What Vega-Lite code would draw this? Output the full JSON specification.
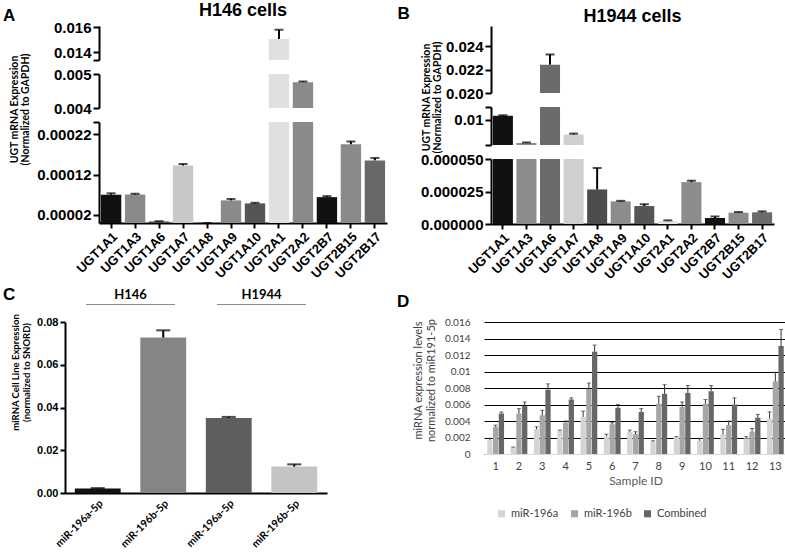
{
  "$schema": "https://vega.github.io/schema/vega-lite/v6.json",
  "background": "white",
  "padding": {"left": 3, "top": 2, "right": 0, "bottom": 0},
  "config": {
    "view": {"stroke": null},
    "font": "Liberation Sans",
    "title": {"font": "Liberation Sans", "fontWeight": "bold", "color": "black", "fontSize": 17},
    "axis": {"grid": false, "domainColor": "black", "domainWidth": 2, "tickColor": "black", "tickWidth": 2, "tickSize": 6, "labelFont": "Liberation Sans", "labelFontWeight": "bold", "labelFontSize": 15, "labelColor": "black", "labelPadding": 2, "titleFont": "Lato", "titleFontWeight": "bold", "titleColor": "black", "titleFontSize": 10.5}
  },
  "datasets": {
    "h146": [
      {"gene": "UGT1A1", "value": 0.00007, "upper": 0.0000735},
      {"gene": "UGT1A3", "value": 0.0000705, "upper": 0.0000725},
      {"gene": "UGT1A6", "value": 0.000004, "upper": 0.0000045},
      {"gene": "UGT1A7", "value": 0.0001425, "upper": 0.000146},
      {"gene": "UGT1A8", "value": 0, "upper": 0},
      {"gene": "UGT1A9", "value": 0.000056, "upper": 0.0000595},
      {"gene": "UGT1A10", "value": 0.0000485, "upper": 0.00005},
      {"gene": "UGT2A1", "value": 0.01504, "upper": 0.01578},
      {"gene": "UGT2A2", "value": 0.00476, "upper": 0.00478},
      {"gene": "UGT2B7", "value": 0.000064, "upper": 0.0000665},
      {"gene": "UGT2B15", "value": 0.000195, "upper": 0.000202},
      {"gene": "UGT2B17", "value": 0.000155, "upper": 0.000161}
    ],
    "h1944": [
      {"gene": "UGT1A1", "value": 0.01062, "upper": 0.0107},
      {"gene": "UGT1A3", "value": 0.00632, "upper": 0.0064},
      {"gene": "UGT1A6", "value": 0.02243, "upper": 0.0233},
      {"gene": "UGT1A7", "value": 0.00766, "upper": 0.0078},
      {"gene": "UGT1A8", "value": 0.0000266, "upper": 0.0000431},
      {"gene": "UGT1A9", "value": 0.0000174, "upper": 0.0000178},
      {"gene": "UGT1A10", "value": 0.0000138, "upper": 0.0000152},
      {"gene": "UGT2A1", "value": 0.0000023, "upper": 0.0000028},
      {"gene": "UGT2A2", "value": 0.0000322, "upper": 0.0000333},
      {"gene": "UGT2B7", "value": 0.0000046, "upper": 0.0000058},
      {"gene": "UGT2B15", "value": 0.0000087, "upper": 0.0000092},
      {"gene": "UGT2B17", "value": 0.000009, "upper": 0.0000097}
    ],
    "c": [
      {"cell": "H146", "key": "H146|miR-196a-5p", "value": 0.0021, "upper": 0.0023},
      {"cell": "H146", "key": "H146|miR-196b-5p", "value": 0.0727, "upper": 0.0761},
      {"cell": "H1944", "key": "H1944|miR-196a-5p", "value": 0.0351, "upper": 0.0356},
      {"cell": "H1944", "key": "H1944|miR-196b-5p", "value": 0.01235, "upper": 0.0134}
    ],
    "d": [
      {"sample": 1, "series": "miR-196a", "value": 0.0017, "upper": 0.0019},
      {"sample": 1, "series": "miR-196b", "value": 0.0033, "upper": 0.0035},
      {"sample": 1, "series": "Combined", "value": 0.0049, "upper": 0.0051},
      {"sample": 2, "series": "miR-196a", "value": 0.0008, "upper": 0.00085},
      {"sample": 2, "series": "miR-196b", "value": 0.0049, "upper": 0.0055},
      {"sample": 2, "series": "Combined", "value": 0.0058, "upper": 0.0063},
      {"sample": 3, "series": "miR-196a", "value": 0.003, "upper": 0.0033},
      {"sample": 3, "series": "miR-196b", "value": 0.0047, "upper": 0.0053},
      {"sample": 3, "series": "Combined", "value": 0.0078, "upper": 0.0085},
      {"sample": 4, "series": "miR-196a", "value": 0.0028, "upper": 0.0029},
      {"sample": 4, "series": "miR-196b", "value": 0.0038, "upper": 0.004},
      {"sample": 4, "series": "Combined", "value": 0.0066, "upper": 0.0068},
      {"sample": 5, "series": "miR-196a", "value": 0.0045, "upper": 0.0052},
      {"sample": 5, "series": "miR-196b", "value": 0.0079, "upper": 0.0086},
      {"sample": 5, "series": "Combined", "value": 0.0124, "upper": 0.0132},
      {"sample": 6, "series": "miR-196a", "value": 0.0022, "upper": 0.0024},
      {"sample": 6, "series": "miR-196b", "value": 0.0036, "upper": 0.0038},
      {"sample": 6, "series": "Combined", "value": 0.0056, "upper": 0.006},
      {"sample": 7, "series": "miR-196a", "value": 0.0027, "upper": 0.0029},
      {"sample": 7, "series": "miR-196b", "value": 0.0024, "upper": 0.0027},
      {"sample": 7, "series": "Combined", "value": 0.0051, "upper": 0.0055},
      {"sample": 8, "series": "miR-196a", "value": 0.0015, "upper": 0.0016},
      {"sample": 8, "series": "miR-196b", "value": 0.0061, "upper": 0.007},
      {"sample": 8, "series": "Combined", "value": 0.0073, "upper": 0.0084},
      {"sample": 9, "series": "miR-196a", "value": 0.002, "upper": 0.0021},
      {"sample": 9, "series": "miR-196b", "value": 0.0057, "upper": 0.0063},
      {"sample": 9, "series": "Combined", "value": 0.0074, "upper": 0.0083},
      {"sample": 10, "series": "miR-196a", "value": 0.0016, "upper": 0.0019},
      {"sample": 10, "series": "miR-196b", "value": 0.0061, "upper": 0.0066},
      {"sample": 10, "series": "Combined", "value": 0.0076, "upper": 0.0083},
      {"sample": 11, "series": "miR-196a", "value": 0.0024, "upper": 0.003},
      {"sample": 11, "series": "miR-196b", "value": 0.0035, "upper": 0.004},
      {"sample": 11, "series": "Combined", "value": 0.006, "upper": 0.0068},
      {"sample": 12, "series": "miR-196a", "value": 0.0019, "upper": 0.0021},
      {"sample": 12, "series": "miR-196b", "value": 0.0027, "upper": 0.0031},
      {"sample": 12, "series": "Combined", "value": 0.0044, "upper": 0.0048},
      {"sample": 13, "series": "miR-196a", "value": 0.0043, "upper": 0.0051},
      {"sample": 13, "series": "miR-196b", "value": 0.0088, "upper": 0.0099},
      {"sample": 13, "series": "Combined", "value": 0.0131, "upper": 0.0151}
    ]
  },
  "vconcat": [
    {
      "spacing": -7,
      "resolve": {"scale": {"color": "independent"}},
      "hconcat": [
        {"title": {"text": "A", "anchor": "start", "offset": 1}, "width": 1, "height": 1, "data": {"values": []}, "mark": "point", "encoding": {}},
        {
          "spacing": 10,
          "resolve": {"scale": {"color": "independent"}},
          "hconcat": [
            {
              "spacing": 14,
              "bounds": "flush",
              "vconcat": [
                {
                  "title": {"text": "H146 cells", "anchor": "middle", "frame": "group", "fontSize": 18, "offset": 0},
                  "width": 288, "height": 34,
                  "data": {"name": "h146"},
                  "encoding": {
                    "x": {"field": "gene", "type": "nominal", "sort": null, "scale": {"paddingInner": 0.15, "paddingOuter": 0.08}, "axis": null},
                    "y": {"field": "value", "type": "quantitative", "scale": {"domain": [0.01336, 0.01608], "nice": false, "zero": false}, "axis": {"values": [0.01336, 0.014, 0.016], "labelExpr": "datum.value < 0.0139 ? '' : format(datum.value, '.3f')", "title": null}}
                  },
                  "layer": [
                    {"mark": {"type": "bar", "clip": true}, "encoding": {
                      "y2": {"datum": 0},
                      "color": {"field": "gene", "type": "nominal", "sort": null, "scale": {"domain": ["UGT1A1","UGT1A3","UGT1A6","UGT1A7","UGT1A8","UGT1A9","UGT1A10","UGT2A1","UGT2A2","UGT2B7","UGT2B15","UGT2B17"], "range": ["#111111","#8a8a8a","#555555","#c8c8c8","#4a4a4a","#8a8a8a","#555555","#e0e0e0","#8a8a8a","#111111","#8a8a8a","#686868"]}, "legend": null}}},
                    {"mark": {"type": "rule", "clip": true, "color": "black", "strokeWidth": 2}, "encoding": {"y2": {"field": "upper"}}},
                    {"mark": {"type": "tick", "clip": true, "color": "black", "thickness": 2, "size": 9}, "encoding": {"y": {"field": "upper", "type": "quantitative", "axis": {"values": [0.01336, 0.014, 0.016], "labelExpr": "datum.value < 0.0139 ? '' : format(datum.value, '.3f')", "title": null}}}}
                  ]
                },
                {
                  "width": 288, "height": 34,
                  "data": {"name": "h146"},
                  "encoding": {
                    "x": {"field": "gene", "type": "nominal", "sort": null, "scale": {"paddingInner": 0.15, "paddingOuter": 0.08}, "axis": null},
                    "y": {"field": "value", "type": "quantitative", "scale": {"domain": [0.004, 0.005], "nice": false, "zero": false}, "axis": {"values": [0.004, 0.005], "format": ".3f", "title": ["UGT mRNA Expression", "(Normalized to GAPDH)"], "titleLineHeight": 11, "titleX": -80, "titleY": 35}}
                  },
                  "layer": [
                    {"mark": {"type": "bar", "clip": true}, "encoding": {
                      "y2": {"datum": 0},
                      "color": {"field": "gene", "type": "nominal", "sort": null, "scale": {"domain": ["UGT1A1","UGT1A3","UGT1A6","UGT1A7","UGT1A8","UGT1A9","UGT1A10","UGT2A1","UGT2A2","UGT2B7","UGT2B15","UGT2B17"], "range": ["#111111","#8a8a8a","#555555","#c8c8c8","#4a4a4a","#8a8a8a","#555555","#e0e0e0","#8a8a8a","#111111","#8a8a8a","#686868"]}, "legend": null}}},
                    {"mark": {"type": "rule", "clip": true, "color": "black", "strokeWidth": 2}, "encoding": {"y2": {"field": "upper"}}},
                    {"mark": {"type": "tick", "clip": true, "color": "black", "thickness": 2, "size": 9}, "encoding": {"y": {"field": "upper", "type": "quantitative", "axis": {"values": [0.004, 0.005], "format": ".3f", "title": ["UGT mRNA Expression", "(Normalized to GAPDH)"], "titleLineHeight": 11, "titleX": -80, "titleY": 35}}}}
                  ]
                },
                {
                  "width": 288, "height": 101,
                  "data": {"name": "h146"},
                  "encoding": {
                    "x": {"field": "gene", "type": "nominal", "sort": null, "scale": {"paddingInner": 0.15, "paddingOuter": 0.08}, "axis": {"labelAngle": -45, "labelFontSize": 13, "tickSize": 5, "labelPadding": 2, "title": null, "labelOverlap": false}},
                    "y": {"field": "value", "type": "quantitative", "scale": {"domain": [0, 0.00025], "nice": false, "zero": false}, "axis": {"values": [0.00002, 0.00012, 0.00022, 0.00025], "labelExpr": "datum.value > 0.00024 ? '' : format(datum.value, '.5f')", "title": null}}
                  },
                  "layer": [
                    {"mark": {"type": "bar", "clip": true}, "encoding": {
                      "y2": {"datum": 0},
                      "color": {"field": "gene", "type": "nominal", "sort": null, "scale": {"domain": ["UGT1A1","UGT1A3","UGT1A6","UGT1A7","UGT1A8","UGT1A9","UGT1A10","UGT2A1","UGT2A2","UGT2B7","UGT2B15","UGT2B17"], "range": ["#111111","#8a8a8a","#555555","#c8c8c8","#4a4a4a","#8a8a8a","#555555","#e0e0e0","#8a8a8a","#111111","#8a8a8a","#686868"]}, "legend": null}}},
                    {"mark": {"type": "rule", "clip": true, "color": "black", "strokeWidth": 2}, "encoding": {"y2": {"field": "upper"}}},
                    {"mark": {"type": "tick", "clip": true, "color": "black", "thickness": 2, "size": 9}, "encoding": {"y": {"field": "upper", "type": "quantitative", "axis": {"values": [0.00002, 0.00012, 0.00022, 0.00025], "labelExpr": "datum.value > 0.00024 ? '' : format(datum.value, '.5f')", "title": null}}}}
                  ]
                }
              ]
            },
            {
              "title": {"text": "B", "anchor": "start", "frame": "bounds", "dx": -23, "dy": 19},
              "spacing": 14,
              "bounds": "flush",
              "vconcat": [
                {
                  "title": {"text": "H1944 cells", "anchor": "middle", "frame": "group", "fontSize": 18, "offset": 0},
                  "width": 283, "height": 67,
                  "data": {"name": "h1944"},
                  "encoding": {
                    "x": {"field": "gene", "type": "nominal", "sort": null, "scale": {"paddingInner": 0.15, "paddingOuter": 0.08}, "axis": null},
                    "y": {"field": "value", "type": "quantitative", "scale": {"domain": [0.02, 0.02574], "nice": false, "zero": false}, "axis": {"values": [0.02, 0.022, 0.024], "format": ".3f", "title": null}}
                  },
                  "layer": [
                    {"mark": {"type": "bar", "clip": true}, "encoding": {
                      "y2": {"datum": 0},
                      "color": {"field": "gene", "type": "nominal", "sort": null, "scale": {"domain": ["UGT1A1","UGT1A3","UGT1A6","UGT1A7","UGT1A8","UGT1A9","UGT1A10","UGT2A1","UGT2A2","UGT2B7","UGT2B15","UGT2B17"], "range": ["#111111","#8c8c8c","#6b6b6b","#cfcfcf","#4d4d4d","#8c8c8c","#555555","#e3e3e3","#8c8c8c","#111111","#8c8c8c","#6b6b6b"]}, "legend": null}}},
                    {"mark": {"type": "rule", "clip": true, "color": "black", "strokeWidth": 2}, "encoding": {"y2": {"field": "upper"}}},
                    {"mark": {"type": "tick", "clip": true, "color": "black", "thickness": 2, "size": 9}, "encoding": {"y": {"field": "upper", "type": "quantitative", "axis": {"values": [0.02, 0.022, 0.024], "format": ".3f", "title": null}}}}
                  ]
                },
                {
                  "width": 283, "height": 38,
                  "data": {"name": "h1944"},
                  "encoding": {
                    "x": {"field": "gene", "type": "nominal", "sort": null, "scale": {"paddingInner": 0.15, "paddingOuter": 0.08}, "axis": null},
                    "y": {"field": "value", "type": "quantitative", "scale": {"domain": [0.006, 0.012], "nice": false, "zero": false}, "axis": {"values": [0.006, 0.01, 0.012], "labelExpr": "abs(datum.value - 0.01) < 0.0001 ? '0.01' : ''", "title": ["UGT mRNA Expression", "(Normalized to GAPDH)"], "titleLineHeight": 11, "titleX": -60, "titleY": -10}}
                  },
                  "layer": [
                    {"mark": {"type": "bar", "clip": true}, "encoding": {
                      "y2": {"datum": 0},
                      "color": {"field": "gene", "type": "nominal", "sort": null, "scale": {"domain": ["UGT1A1","UGT1A3","UGT1A6","UGT1A7","UGT1A8","UGT1A9","UGT1A10","UGT2A1","UGT2A2","UGT2B7","UGT2B15","UGT2B17"], "range": ["#111111","#8c8c8c","#6b6b6b","#cfcfcf","#4d4d4d","#8c8c8c","#555555","#e3e3e3","#8c8c8c","#111111","#8c8c8c","#6b6b6b"]}, "legend": null}}},
                    {"mark": {"type": "rule", "clip": true, "color": "black", "strokeWidth": 2}, "encoding": {"y2": {"field": "upper"}}},
                    {"mark": {"type": "tick", "clip": true, "color": "black", "thickness": 2, "size": 9}, "encoding": {"y": {"field": "upper", "type": "quantitative", "axis": {"values": [0.006, 0.01, 0.012], "labelExpr": "abs(datum.value - 0.01) < 0.0001 ? '0.01' : ''", "title": ["UGT mRNA Expression", "(Normalized to GAPDH)"], "titleLineHeight": 11, "titleX": -60, "titleY": -10}}}}
                  ]
                },
                {
                  "width": 283, "height": 65,
                  "data": {"name": "h1944"},
                  "encoding": {
                    "x": {"field": "gene", "type": "nominal", "sort": null, "scale": {"paddingInner": 0.15, "paddingOuter": 0.08}, "axis": {"labelAngle": -45, "labelFontSize": 13, "tickSize": 5, "labelPadding": 2, "title": null, "labelOverlap": false}},
                    "y": {"field": "value", "type": "quantitative", "scale": {"domain": [0, 0.00005], "nice": false, "zero": false}, "axis": {"values": [0, 0.000025, 0.00005], "format": ".6f", "title": null}}
                  },
                  "layer": [
                    {"mark": {"type": "bar", "clip": true}, "encoding": {
                      "y2": {"datum": 0},
                      "color": {"field": "gene", "type": "nominal", "sort": null, "scale": {"domain": ["UGT1A1","UGT1A3","UGT1A6","UGT1A7","UGT1A8","UGT1A9","UGT1A10","UGT2A1","UGT2A2","UGT2B7","UGT2B15","UGT2B17"], "range": ["#111111","#8c8c8c","#6b6b6b","#cfcfcf","#4d4d4d","#8c8c8c","#555555","#e3e3e3","#8c8c8c","#111111","#8c8c8c","#6b6b6b"]}, "legend": null}}},
                    {"mark": {"type": "rule", "clip": true, "color": "black", "strokeWidth": 2}, "encoding": {"y2": {"field": "upper"}}},
                    {"mark": {"type": "tick", "clip": true, "color": "black", "thickness": 2, "size": 9}, "encoding": {"y": {"field": "upper", "type": "quantitative", "axis": {"values": [0, 0.000025, 0.00005], "format": ".6f", "title": null}}}}
                  ]
                }
              ]
            }
          ]
        }
      ]
    },
    {
      "spacing": -7,
      "resolve": {"scale": {"color": "independent"}},
      "hconcat": [
        {"title": {"text": "C", "anchor": "start", "offset": 18}, "width": 1, "height": 1, "data": {"values": []}, "mark": "point", "encoding": {}},
        {
          "spacing": 70,
          "resolve": {"scale": {"color": "independent"}},
          "hconcat": [
            {
              "width": 262, "height": 171,
              "data": {"name": "c"},
              "layer": [
                {
                  "encoding": {
                    "x": {"field": "key", "type": "nominal", "sort": null, "scale": {"paddingInner": 0.3, "paddingOuter": 0.15}, "axis": {"labelExpr": "split(datum.label, '|')[1]", "labelAngle": -45, "labelFont": "Lato", "labelFontSize": 10.5, "ticks": false, "labelPadding": 5, "title": null}},
                    "y": {"field": "value", "type": "quantitative", "scale": {"domain": [0, 0.08], "nice": false}, "axis": {"values": [0, 0.02, 0.04, 0.06, 0.08], "format": ".2f", "labelFontSize": 11, "tickSize": 5, "title": ["miRNA Cell Line Expression", "(normalized to SNORD)"], "titleFontSize": 9.5, "titleLineHeight": 11, "titleX": -45, "titleY": 50}}
                  },
                  "layer": [
                    {"mark": {"type": "bar"}, "encoding": {
                      "color": {"field": "key", "type": "nominal", "sort": null, "scale": {"domain": ["H146|miR-196a-5p", "H146|miR-196b-5p", "H1944|miR-196a-5p", "H1944|miR-196b-5p"], "range": ["#111111", "#858585", "#5e5e5e", "#c4c4c4"]}, "legend": null}}},
                    {"mark": {"type": "rule", "color": "black", "strokeWidth": 2}, "encoding": {"y2": {"field": "upper"}}},
                    {"mark": {"type": "tick", "color": "black", "thickness": 2, "size": 14}, "encoding": {"y": {"field": "upper", "type": "quantitative", "axis": {"values": [0, 0.02, 0.04, 0.06, 0.08], "format": ".2f", "labelFontSize": 11, "tickSize": 5, "title": ["miRNA Cell Line Expression", "(normalized to SNORD)"], "titleFontSize": 9.5, "titleLineHeight": 11, "titleX": -45, "titleY": 50}}}}
                  ]
                },
                {
                  "transform": [{"aggregate": [{"op": "count", "as": "n"}], "groupby": ["cell"]}],
                  "encoding": {
                    "x": {"field": "cell", "type": "nominal", "sort": ["H146", "H1944"], "scale": {"paddingInner": 0.32, "paddingOuter": 0.16}, "axis": null}
                  },
                  "layer": [
                    {"mark": {"type": "bar", "color": "#666666"}, "encoding": {"y": {"datum": 0.0881}, "y2": {"datum": 0.0884}}},
                    {"mark": {"type": "text", "font": "Lato", "fontWeight": "bold", "fontSize": 13, "baseline": "bottom", "dy": -2, "color": "black"}, "encoding": {"y": {"datum": 0.0884}, "text": {"field": "cell"}}}
                  ]
                }
              ],
              "resolve": {"scale": {"x": "independent"}}
            },
            {
              "title": {"text": "D", "anchor": "start", "frame": "bounds", "dx": -15, "offset": 6},
              "width": 303, "height": 132,
              "data": {"name": "d"},
              "encoding": {
                "x": {"field": "sample", "type": "ordinal", "scale": {"paddingInner": 0.28, "paddingOuter": 0.14}, "axis": {"labelAngle": 0, "ticks": false, "domainColor": "#d9d9d9", "domainWidth": 1, "labelFont": "Lato", "labelFontWeight": "normal", "labelFontSize": 11, "labelColor": "#404040", "labelPadding": 6, "title": "Sample ID", "titleFont": "Lato", "titleFontWeight": "normal", "titleFontSize": 12, "titleColor": "#595959", "titlePadding": 4}},
                "xOffset": {"field": "series", "type": "nominal", "sort": ["miR-196a", "miR-196b", "Combined"], "scale": {"paddingInner": 0.08}},
                "y": {"field": "value", "type": "quantitative", "scale": {"domain": [0, 0.016], "nice": false}, "axis": {"values": [0, 0.002, 0.004, 0.006, 0.008, 0.01, 0.012, 0.014, 0.016], "format": "~f", "domain": false, "ticks": false, "labelPadding": 14, "grid": true, "gridColor": "black", "gridWidth": 1, "labelFont": "Lato", "labelFontWeight": "normal", "labelFontSize": 10, "labelColor": "#404040", "title": ["miRNA expression levels", "normalized to miR191-5p"], "titleFont": "Lato", "titleFontWeight": "normal", "titleFontSize": 11, "titleColor": "#404040", "titleX": -61, "titleY": 58}}
              },
              "layer": [
                {"mark": {"type": "bar"}, "encoding": {
                  "color": {"field": "series", "type": "nominal", "sort": ["miR-196a", "miR-196b", "Combined"], "scale": {"domain": ["miR-196a", "miR-196b", "Combined"], "range": ["#d4d4d4", "#a6a6a6", "#676767"]}, "legend": {"orient": "bottom", "direction": "horizontal", "offset": 10, "padding": 12, "title": null, "symbolType": "square", "symbolSize": 50, "labelFont": "Lato", "labelFontSize": 11, "labelColor": "#404040", "columnPadding": 10}}}},
                {"mark": {"type": "rule", "color": "#333333", "strokeWidth": 1}, "encoding": {"y2": {"field": "upper"}}},
                {"mark": {"type": "tick", "color": "#333333", "thickness": 1, "size": 4}, "encoding": {"y": {"field": "upper", "type": "quantitative", "axis": {"values": [0, 0.002, 0.004, 0.006, 0.008, 0.01, 0.012, 0.014, 0.016], "format": "~f", "domain": false, "ticks": false, "labelPadding": 14, "grid": true, "gridColor": "black", "gridWidth": 1, "labelFont": "Lato", "labelFontWeight": "normal", "labelFontSize": 10, "labelColor": "#404040", "title": ["miRNA expression levels", "normalized to miR191-5p"], "titleFont": "Lato", "titleFontWeight": "normal", "titleFontSize": 11, "titleColor": "#404040", "titleX": -61, "titleY": 58}}}}
              ]
            }
          ]
        }
      ]
    }
  ],
  "spacing": 4,
  "resolve": {"scale": {"color": "independent"}}
}
